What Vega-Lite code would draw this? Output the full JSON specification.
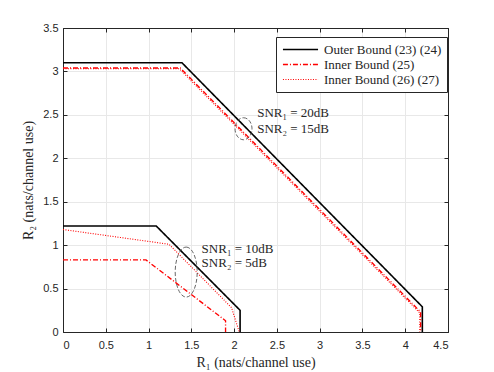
{
  "$schema": "https://vega.github.io/schema/vega-lite/v6.json",
  "width": 385,
  "height": 304,
  "autosize": {"type": "none"},
  "padding": {"left": 63, "top": 28, "right": 46, "bottom": 40},
  "background": "white",
  "config": {
    "view": {"stroke": "#262626", "strokeWidth": 1},
    "axis": {
      "labelFont": "Liberation Sans",
      "labelFontSize": 11,
      "labelColor": "#262626",
      "titleFont": "Liberation Serif",
      "titleFontSize": 14,
      "titleFontWeight": "normal",
      "titleColor": "#262626",
      "domainColor": "#262626",
      "tickColor": "#262626",
      "gridColor": "#e8e8e8",
      "gridWidth": 1
    },
    "legend": {
      "labelFont": "Liberation Serif",
      "labelFontSize": 13,
      "labelColor": "#262626"
    }
  },
  "datasets": {
    "curves": [
      {"series": "Outer Bound (23) (24)", "curve": "o20", "i": 0, "x": 0, "y": 3.1},
      {"series": "Outer Bound (23) (24)", "curve": "o20", "i": 1, "x": 1.39, "y": 3.1},
      {"series": "Outer Bound (23) (24)", "curve": "o20", "i": 2, "x": 4.2, "y": 0.29},
      {"series": "Outer Bound (23) (24)", "curve": "o20", "i": 3, "x": 4.2, "y": 0},
      {"series": "Inner Bound (25)", "curve": "a20", "i": 0, "x": 0, "y": 3.04},
      {"series": "Inner Bound (25)", "curve": "a20", "i": 1, "x": 1.37, "y": 3.04},
      {"series": "Inner Bound (25)", "curve": "a20", "i": 2, "x": 4.18, "y": 0.23},
      {"series": "Inner Bound (25)", "curve": "a20", "i": 3, "x": 4.18, "y": 0},
      {"series": "Inner Bound (26) (27)", "curve": "b20", "i": 0, "x": 0, "y": 3.03},
      {"series": "Inner Bound (26) (27)", "curve": "b20", "i": 1, "x": 1.36, "y": 3.03},
      {"series": "Inner Bound (26) (27)", "curve": "b20", "i": 2, "x": 4.17, "y": 0.22},
      {"series": "Inner Bound (26) (27)", "curve": "b20", "i": 3, "x": 4.17, "y": 0},
      {"series": "Outer Bound (23) (24)", "curve": "o10", "i": 0, "x": 0, "y": 1.22},
      {"series": "Outer Bound (23) (24)", "curve": "o10", "i": 1, "x": 1.09, "y": 1.22},
      {"series": "Outer Bound (23) (24)", "curve": "o10", "i": 2, "x": 2.07, "y": 0.25},
      {"series": "Outer Bound (23) (24)", "curve": "o10", "i": 3, "x": 2.07, "y": 0},
      {"series": "Inner Bound (25)", "curve": "a10", "i": 0, "x": 0, "y": 0.83},
      {"series": "Inner Bound (25)", "curve": "a10", "i": 1, "x": 0.97, "y": 0.83},
      {"series": "Inner Bound (25)", "curve": "a10", "i": 2, "x": 1.9, "y": 0.13},
      {"series": "Inner Bound (25)", "curve": "a10", "i": 3, "x": 1.9, "y": 0},
      {"series": "Inner Bound (26) (27)", "curve": "b10", "i": 0, "x": 0, "y": 1.18},
      {"series": "Inner Bound (26) (27)", "curve": "b10", "i": 1, "x": 1.24, "y": 1.01},
      {"series": "Inner Bound (26) (27)", "curve": "b10", "i": 2, "x": 1.97, "y": 0.28},
      {"series": "Inner Bound (26) (27)", "curve": "b10", "i": 3, "x": 2.06, "y": 0}
    ],
    "notes": [
      {"x": 1.62, "y": 0.955, "label": "SNR₁ = 10dB"},
      {"x": 1.62, "y": 0.79, "label": "SNR₂ = 5dB"},
      {"x": 2.27, "y": 2.52, "label": "SNR₁ = 20dB"},
      {"x": 2.27, "y": 2.34, "label": "SNR₂ = 15dB"}
    ],
    "ellLow": [{"x": 1.44, "y": 0.69}],
    "ellHigh": [{"x": 2.11, "y": 2.34}]
  },
  "layer": [
    {
      "data": {"name": "curves"},
      "mark": {"type": "line", "clip": true},
      "encoding": {
        "x": {
          "field": "x", "type": "quantitative",
          "scale": {"domain": [0, 4.5], "nice": false, "zero": false},
          "axis": {
            "values": [0, 0.5, 1, 1.5, 2, 2.5, 3, 3.5, 4, 4.5],
            "format": "~g",
            "title": "R₁ (nats/channel use)",
            "tickSize": -4,
            "labelPadding": 11,
            "titlePadding": 5
          }
        },
        "y": {
          "field": "y", "type": "quantitative",
          "scale": {"domain": [0, 3.5], "nice": false, "zero": false},
          "axis": {
            "values": [0, 0.5, 1, 1.5, 2, 2.5, 3, 3.5],
            "format": "~g",
            "title": "R₂ (nats/channel use)",
            "tickSize": -4,
            "labelPadding": 9,
            "titlePadding": 7
          }
        },
        "detail": {"field": "curve"},
        "order": {"field": "i", "type": "quantitative"},
        "color": {
          "field": "series", "type": "nominal",
          "scale": {
            "domain": ["Outer Bound (23) (24)", "Inner Bound (25)", "Inner Bound (26) (27)"],
            "range": ["#000000", "#ff0000", "#ff0000"]
          },
          "legend": {
            "title": null,
            "orient": "none",
            "legendX": 213,
            "legendY": 9,
            "symbolType": "M -2.7,0 L 2.7,0",
            "symbolSize": 169,
            "symbolOffset": 12,
            "symbolStrokeWidth": 1.3,
            "strokeColor": "#262626",
            "fillColor": "white",
            "padding": 5,
            "rowPadding": 0,
            "labelOffset": 16
          }
        },
        "strokeDash": {
          "field": "series", "type": "nominal",
          "scale": {
            "domain": ["Outer Bound (23) (24)", "Inner Bound (25)", "Inner Bound (26) (27)"],
            "range": [[1, 0], [5, 2, 1, 2], [1, 1.5]]
          },
          "legend": {
            "title": null,
            "orient": "none",
            "legendX": 213,
            "legendY": 9,
            "symbolType": "M -2.7,0 L 2.7,0",
            "symbolSize": 169,
            "symbolOffset": 12,
            "symbolStrokeWidth": 1.3,
            "strokeColor": "#262626",
            "fillColor": "white",
            "padding": 5,
            "rowPadding": 0,
            "labelOffset": 16
          }
        },
        "strokeWidth": {
          "field": "series", "type": "nominal",
          "scale": {
            "domain": ["Outer Bound (23) (24)", "Inner Bound (25)", "Inner Bound (26) (27)"],
            "range": [1.6, 1.1, 1.1]
          },
          "legend": null
        }
      }
    },
    {
      "data": {"name": "ellLow"},
      "mark": {
        "type": "point",
        "shape": "M 0,-1 C 0.243,-1 0.44,-0.5523 0.44,0 C 0.44,0.5523 0.243,1 0,1 C -0.243,1 -0.44,0.5523 -0.44,0 C -0.44,-0.5523 -0.243,-1 0,-1 Z",
        "size": 2500,
        "filled": false,
        "stroke": "#404040",
        "strokeWidth": 0.8,
        "strokeDash": [4, 2],
        "opacity": 1
      },
      "encoding": {
        "x": {"field": "x", "type": "quantitative", "axis": null},
        "y": {"field": "y", "type": "quantitative", "axis": null}
      }
    },
    {
      "data": {"name": "ellHigh"},
      "mark": {
        "type": "point",
        "shape": "M 0,-1 C 0.425,-1 0.77,-0.5523 0.77,0 C 0.77,0.5523 0.425,1 0,1 C -0.425,1 -0.77,0.5523 -0.77,0 C -0.77,-0.5523 -0.425,-1 0,-1 Z",
        "size": 484,
        "filled": false,
        "stroke": "#404040",
        "strokeWidth": 0.8,
        "strokeDash": [4, 2],
        "opacity": 1
      },
      "encoding": {
        "x": {"field": "x", "type": "quantitative",
          "axis": {"orient": "top", "labels": false, "title": null, "grid": false, "tickSize": -4, "values": [0, 0.5, 1, 1.5, 2, 2.5, 3, 3.5, 4, 4.5]}},
        "y": {"field": "y", "type": "quantitative",
          "axis": {"orient": "right", "labels": false, "title": null, "grid": false, "tickSize": -4, "values": [0, 0.5, 1, 1.5, 2, 2.5, 3, 3.5]}}
      }
    },
    {
      "data": {"name": "notes"},
      "mark": {
        "type": "text",
        "align": "left",
        "baseline": "middle",
        "font": "Liberation Serif",
        "fontSize": 13,
        "color": "#262626"
      },
      "encoding": {
        "x": {"field": "x", "type": "quantitative", "axis": null},
        "y": {"field": "y", "type": "quantitative", "axis": null},
        "text": {"field": "label"}
      }
    }
  ],
  "resolve": {"axis": {"x": "independent", "y": "independent"}}
}
